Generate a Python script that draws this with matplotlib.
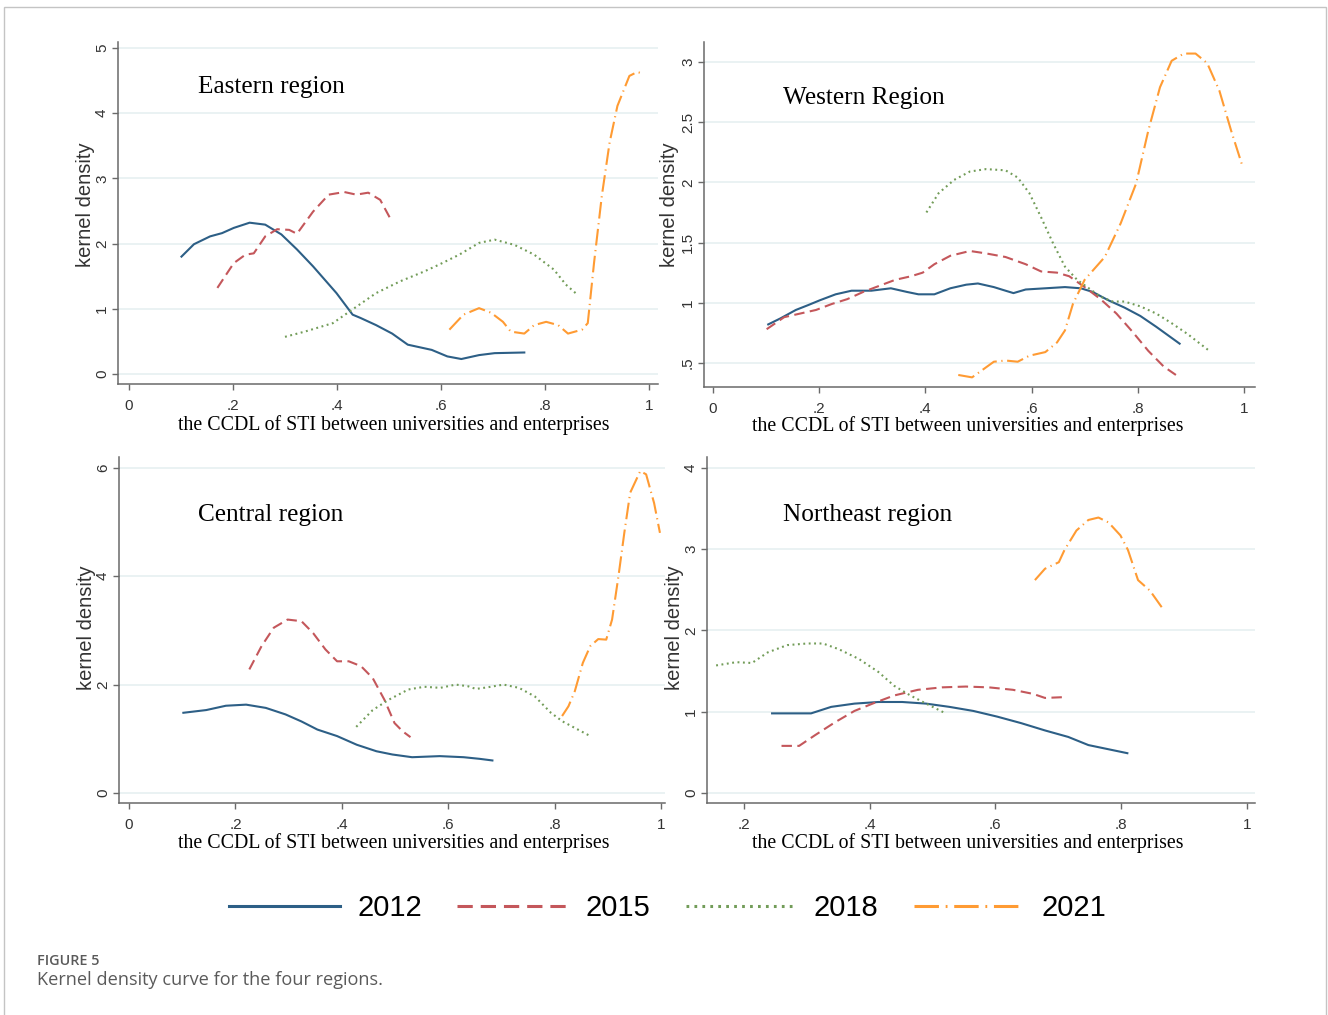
import matplotlib
matplotlib.use('Agg')
import matplotlib.pyplot as plt
from matplotlib.patches import Rectangle

W, H = 1328, 1015

years = ['2012', '2015', '2018', '2021']
colors = ['#2d5f86', '#c4575b', '#729c58', '#ff9b33']

# ---------------- Eastern region ----------------
east_2012_x = [.101, .125, .156, .179, .2015, .232, .262, .293, .323, .354, .399, .43, .445, .475, .506, .536, .582, .612, .639, .673, .703, .760]
east_2012_y = [1.80, 1.99, 2.11, 2.16, 2.24, 2.32, 2.29, 2.14, 1.91, 1.65, 1.24, 0.91, 0.86, 0.75, 0.62, 0.45, 0.37, 0.27, 0.23, 0.29, 0.32, 0.33]
east_2015_x = [.17, .2015, .224, .24, .262, .285, .308, .323, .354, .384, .414, .437, .46, .483, .504]
east_2015_y = [1.32, 1.70, 1.83, 1.85, 2.11, 2.22, 2.21, 2.15, 2.49, 2.75, 2.79, 2.75, 2.78, 2.67, 2.36]
east_2018_x = [.300, .338, .392, .437, .475, .521, .567, .597, .635, .673, .703, .741, .779, .817, .840, .863]
east_2018_y = [0.57, 0.65, 0.78, 1.03, 1.24, 1.42, 1.57, 1.68, 1.83, 2.01, 2.06, 1.98, 1.83, 1.60, 1.37, 1.21]
east_2021_x = [.616, .643, .673, .696, .719, .734, .760, .779, .802, .825, .844, .871, .882, .894, .909, .924, .939, .962, .977, .986]
east_2021_y = [0.68, 0.91, 1.01, 0.94, 0.80, 0.65, 0.62, 0.75, 0.80, 0.75, 0.62, 0.68, 0.78, 1.70, 2.73, 3.55, 4.11, 4.57, 4.63, 4.61]

# ---------------- Western region ----------------
west_2012_x = [.104, .127, .156, .179, .201, .231, .261, .298, .335, .365, .387, .417, .447, .477, .499, .529, .551, .566, .589, .626, .663, .693, .715, .745, .775, .805, .835, .879]
west_2012_y = [0.82, 0.87, 0.94, 0.98, 1.02, 1.07, 1.10, 1.10, 1.12, 1.09, 1.07, 1.07, 1.12, 1.15, 1.16, 1.13, 1.10, 1.08, 1.11, 1.12, 1.13, 1.12, 1.09, 1.02, 0.96, 0.89, 0.80, 0.66]
west_2015_x = [.101, .134, .164, .194, .224, .253, .283, .313, .343, .373, .395, .417, .447, .484, .514, .551, .589, .618, .648, .671, .700, .730, .760, .790, .820, .849, .872]
west_2015_y = [0.78, 0.88, 0.91, 0.94, 0.99, 1.03, 1.09, 1.14, 1.19, 1.22, 1.25, 1.32, 1.39, 1.43, 1.41, 1.38, 1.32, 1.26, 1.25, 1.22, 1.13, 1.03, 0.91, 0.76, 0.60, 0.47, 0.40]
west_2018_x = [.402, .425, .454, .484, .514, .551, .574, .596, .618, .641, .663, .686, .708, .730, .753, .775, .805, .835, .864, .894, .935]
west_2018_y = [1.75, 1.91, 2.02, 2.09, 2.11, 2.10, 2.04, 1.91, 1.71, 1.49, 1.30, 1.19, 1.12, 1.05, 1.01, 1.01, 0.97, 0.91, 0.83, 0.74, 0.60]
west_2021_x = [.462, .488, .507, .529, .551, .574, .596, .626, .648, .663, .678, .700, .738, .768, .797, .820, .842, .864, .887, .909, .931, .954, .976, .997]
west_2021_y = [0.40, 0.38, 0.44, 0.51, 0.52, 0.51, 0.56, 0.59, 0.67, 0.77, 0.99, 1.19, 1.38, 1.66, 1.99, 2.43, 2.79, 3.01, 3.07, 3.07, 2.99, 2.76, 2.43, 2.14]

# ---------------- Central region ----------------
cent_2012_x = [.102, .145, .182, .220, .257, .294, .324, .354, .391, .428, .465, .495, .532, .584, .629, .659, .683]
cent_2012_y = [1.48, 1.53, 1.61, 1.63, 1.57, 1.45, 1.32, 1.17, 1.05, 0.89, 0.77, 0.71, 0.66, 0.68, 0.66, 0.63, 0.60]
cent_2015_x = [.226, .249, .272, .298, .324, .346, .369, .391, .413, .436, .458, .480, .499, .514, .529]
cent_2015_y = [2.28, 2.71, 3.05, 3.20, 3.17, 2.95, 2.65, 2.43, 2.43, 2.34, 2.12, 1.72, 1.29, 1.14, 1.03]
cent_2018_x = [.427, .458, .488, .525, .555, .585, .614, .637, .652, .674, .704, .733, .763, .793, .815, .838, .867]
cent_2018_y = [1.22, 1.53, 1.72, 1.91, 1.96, 1.94, 2.00, 1.97, 1.92, 1.95, 2.00, 1.94, 1.78, 1.48, 1.32, 1.20, 1.05]
cent_2021_x = [.814, .826, .838, .853, .867, .882, .897, .908, .920, .931, .942, .961, .972, .987, .998]
cent_2021_y = [1.42, 1.60, 1.88, 2.40, 2.71, 2.84, 2.83, 3.20, 4.00, 4.80, 5.54, 5.94, 5.88, 5.35, 4.80]

# ---------------- Northeast region ----------------
ne_2012_x = [.245, .307, .339, .376, .414, .452, .490, .527, .565, .603, .641, .679, .716, .748, .779, .810]
ne_2012_y = [0.98, 0.98, 1.06, 1.10, 1.12, 1.12, 1.10, 1.06, 1.01, 0.94, 0.86, 0.77, 0.69, 0.59, 0.54, 0.49]
ne_2015_x = [.260, .288, .313, .345, .376, .408, .439, .477, .515, .553, .590, .628, .660, .679, .710]
ne_2015_y = [0.58, 0.58, 0.71, 0.87, 1.01, 1.11, 1.20, 1.27, 1.30, 1.31, 1.30, 1.27, 1.22, 1.17, 1.18]
ne_2018_x = [.156, .188, .213, .238, .269, .301, .326, .351, .383, .414, .439, .465, .490, .521]
ne_2018_y = [1.57, 1.61, 1.60, 1.73, 1.82, 1.84, 1.84, 1.77, 1.65, 1.49, 1.32, 1.20, 1.10, 0.98]
ne_2021_x = [.663, .679, .701, .710, .729, .748, .764, .780, .799, .811, .827, .846, .868]
ne_2021_y = [2.62, 2.76, 2.84, 2.99, 3.23, 3.36, 3.39, 3.33, 3.17, 2.99, 2.62, 2.49, 2.25]

titles = ['Eastern region', 'Western Region', 'Central region', 'Northeast region']
x_label = 'the CCDL of STI between universities and enterprises'
y_label = 'kernel density'

x_ticks_full = [0, .2, .4, .6, .8, 1]
x_ticklabels_full = ['0', '.2', '.4', '.6', '.8', '1']
x_ticks_ne = [.2, .4, .6, .8, 1]
x_ticklabels_ne = ['.2', '.4', '.6', '.8', '1']
y_ticks_east = [0, 1, 2, 3, 4, 5]
y_ticks_west = [.5, 1, 1.5, 2, 2.5, 3]
y_ticklabels_west = ['.5', '1', '1.5', '2', '2.5', '3']
y_ticks_cent = [0, 2, 4, 6]
y_ticks_ne = [0, 1, 2, 3, 4]

SERIF = ['Liberation Serif', 'DejaVu Serif']
SANS = ['Liberation Sans', 'DejaVu Sans']
plt.rcParams['font.family'] = SANS

fig = plt.figure(figsize=(W / 100, H / 100), dpi=100)
fig.patch.set_facecolor('white')


def rect(l, r, t, b):
    return [l / W, 1 - b / H, (r - l) / W, (b - t) / H]


styles = [
    dict(linestyle='-'),
    dict(linestyle=(0, (5, 2.6))),
    dict(linestyle=(0, (0.9, 1.7))),
    dict(linestyle=(0, (8, 2.2, 0.6, 2.2))),
]

panels = [
    dict(rect=rect(118, 658, 42, 384), xlim=(-0.021, 1.017), ylim=(-0.153, 5.09),
         xt=x_ticks_full, xtl=x_ticklabels_full, yt=y_ticks_east, ytl=[str(v) for v in y_ticks_east],
         data=[(east_2012_x, east_2012_y), (east_2015_x, east_2015_y), (east_2018_x, east_2018_y), (east_2021_x, east_2021_y)],
         title_pos=(0.148, 0.868), xl=(0.511, -0.120), yl=(-0.060, 0.523)),
    dict(rect=rect(704, 1255, 42, 387), xlim=(-0.017, 1.021), ylim=(0.30, 3.166),
         xt=x_ticks_full, xtl=x_ticklabels_full, yt=y_ticks_west, ytl=y_ticklabels_west,
         data=[(west_2012_x, west_2012_y), (west_2015_x, west_2015_y), (west_2018_x, west_2018_y), (west_2021_x, west_2021_y)],
         title_pos=(0.143, 0.838), xl=(0.479, -0.113), yl=(-0.063, 0.528)),
    dict(rect=rect(119, 665, 457, 803), xlim=(-0.019, 1.0075), ylim=(-0.185, 6.2),
         xt=x_ticks_full, xtl=x_ticklabels_full, yt=y_ticks_cent, ytl=[str(v) for v in y_ticks_cent],
         data=[(cent_2012_x, cent_2012_y), (cent_2015_x, cent_2015_y), (cent_2018_x, cent_2018_y), (cent_2021_x, cent_2021_y)],
         title_pos=(0.145, 0.832), xl=(0.504, -0.116), yl=(-0.059, 0.506)),
    dict(rect=rect(707, 1255, 457, 803), xlim=(0.1415, 1.013), ylim=(-0.123, 4.135),
         xt=x_ticks_ne, xtl=x_ticklabels_ne, yt=y_ticks_ne, ytl=[str(v) for v in y_ticks_ne],
         data=[(ne_2012_x, ne_2012_y), (ne_2015_x, ne_2015_y), (ne_2018_x, ne_2018_y), (ne_2021_x, ne_2021_y)],
         title_pos=(0.139, 0.832), xl=(0.476, -0.116), yl=(-0.059, 0.506)),
]

handles = None
for i, p in enumerate(panels):
    ax = fig.add_axes(p['rect'])
    ax.set_xlim(*p['xlim'])
    ax.set_ylim(*p['ylim'])
    ax.set_yticks(p['yt'])
    ax.set_yticklabels(p['ytl'])
    ax.set_xticks(p['xt'])
    ax.set_xticklabels(p['xtl'])
    ax.grid(axis='y', color='#e6f0f1', linewidth=1.2, zorder=0)
    ax.set_axisbelow(True)
    for s in ['top', 'right']:
        ax.spines[s].set_visible(False)
    for s in ['left', 'bottom']:
        ax.spines[s].set_color('#6a6a6a')
        ax.spines[s].set_linewidth(1.1)
    ax.tick_params(axis='both', colors='#6a6a6a', length=4, width=1.0, labelcolor='#333333', labelsize=11)
    ax.tick_params(axis='x', pad=6.5)
    ax.tick_params(axis='y', pad=2.5)
    for lab in ax.get_yticklabels():
        lab.set_rotation(90)
        lab.set_va('center')
    lines = []
    for (xs, ys), c, st, yr in zip(p['data'], colors, styles, years):
        ln, = ax.plot(xs, ys, color=c, linewidth=1.5, label=yr, **st)
        if st['linestyle'] != '-':
            ln.set_dash_capstyle('butt')
        lines.append(ln)
    if handles is None:
        handles = lines
    ax.text(p['title_pos'][0], p['title_pos'][1], titles[i], transform=ax.transAxes,
            ha='left', va='center', fontsize=18.2, family=SERIF, color='black')
    ax.set_xlabel(x_label, fontsize=14.3, family=SERIF, color='black', va='center')
    ax.xaxis.set_label_coords(*p['xl'])
    ax.set_ylabel(y_label, fontsize=14.5, color='#333333', va='center')
    ax.yaxis.set_label_coords(*p['yl'])

leg = fig.legend(handles, years, loc='center', bbox_to_anchor=(668 / W, 1 - 908 / H), ncol=4,
                 frameon=False, prop={'family': SANS, 'size': 21}, handlelength=3.8,
                 handletextpad=0.6, columnspacing=1.2)
for l in leg.get_lines():
    l.set_linewidth(2.2)

# Caption
fig.text(37 / W, 1 - 961 / H, 'FIGURE 5', ha='left', va='center', fontsize=10.4,
         family=['Open Sans', 'DejaVu Sans'], weight='semibold', color='#5a5a5a')
fig.text(37 / W, 1 - 980 / H, 'Kernel density curve for the four regions.', ha='left', va='center',
         fontsize=13.1, family=['Open Sans', 'DejaVu Sans'], color='#5a5a5a')

# Outer frame
fig.patches.append(Rectangle((4 / W, 1 - 1030 / H), (1326 - 4) / W, (1030 - 7) / H,
                             transform=fig.transFigure, fill=False, edgecolor='#c4c4c4',
                             linewidth=1.0, figure=fig))

fig.savefig('out.png', dpi=100, facecolor='white')
